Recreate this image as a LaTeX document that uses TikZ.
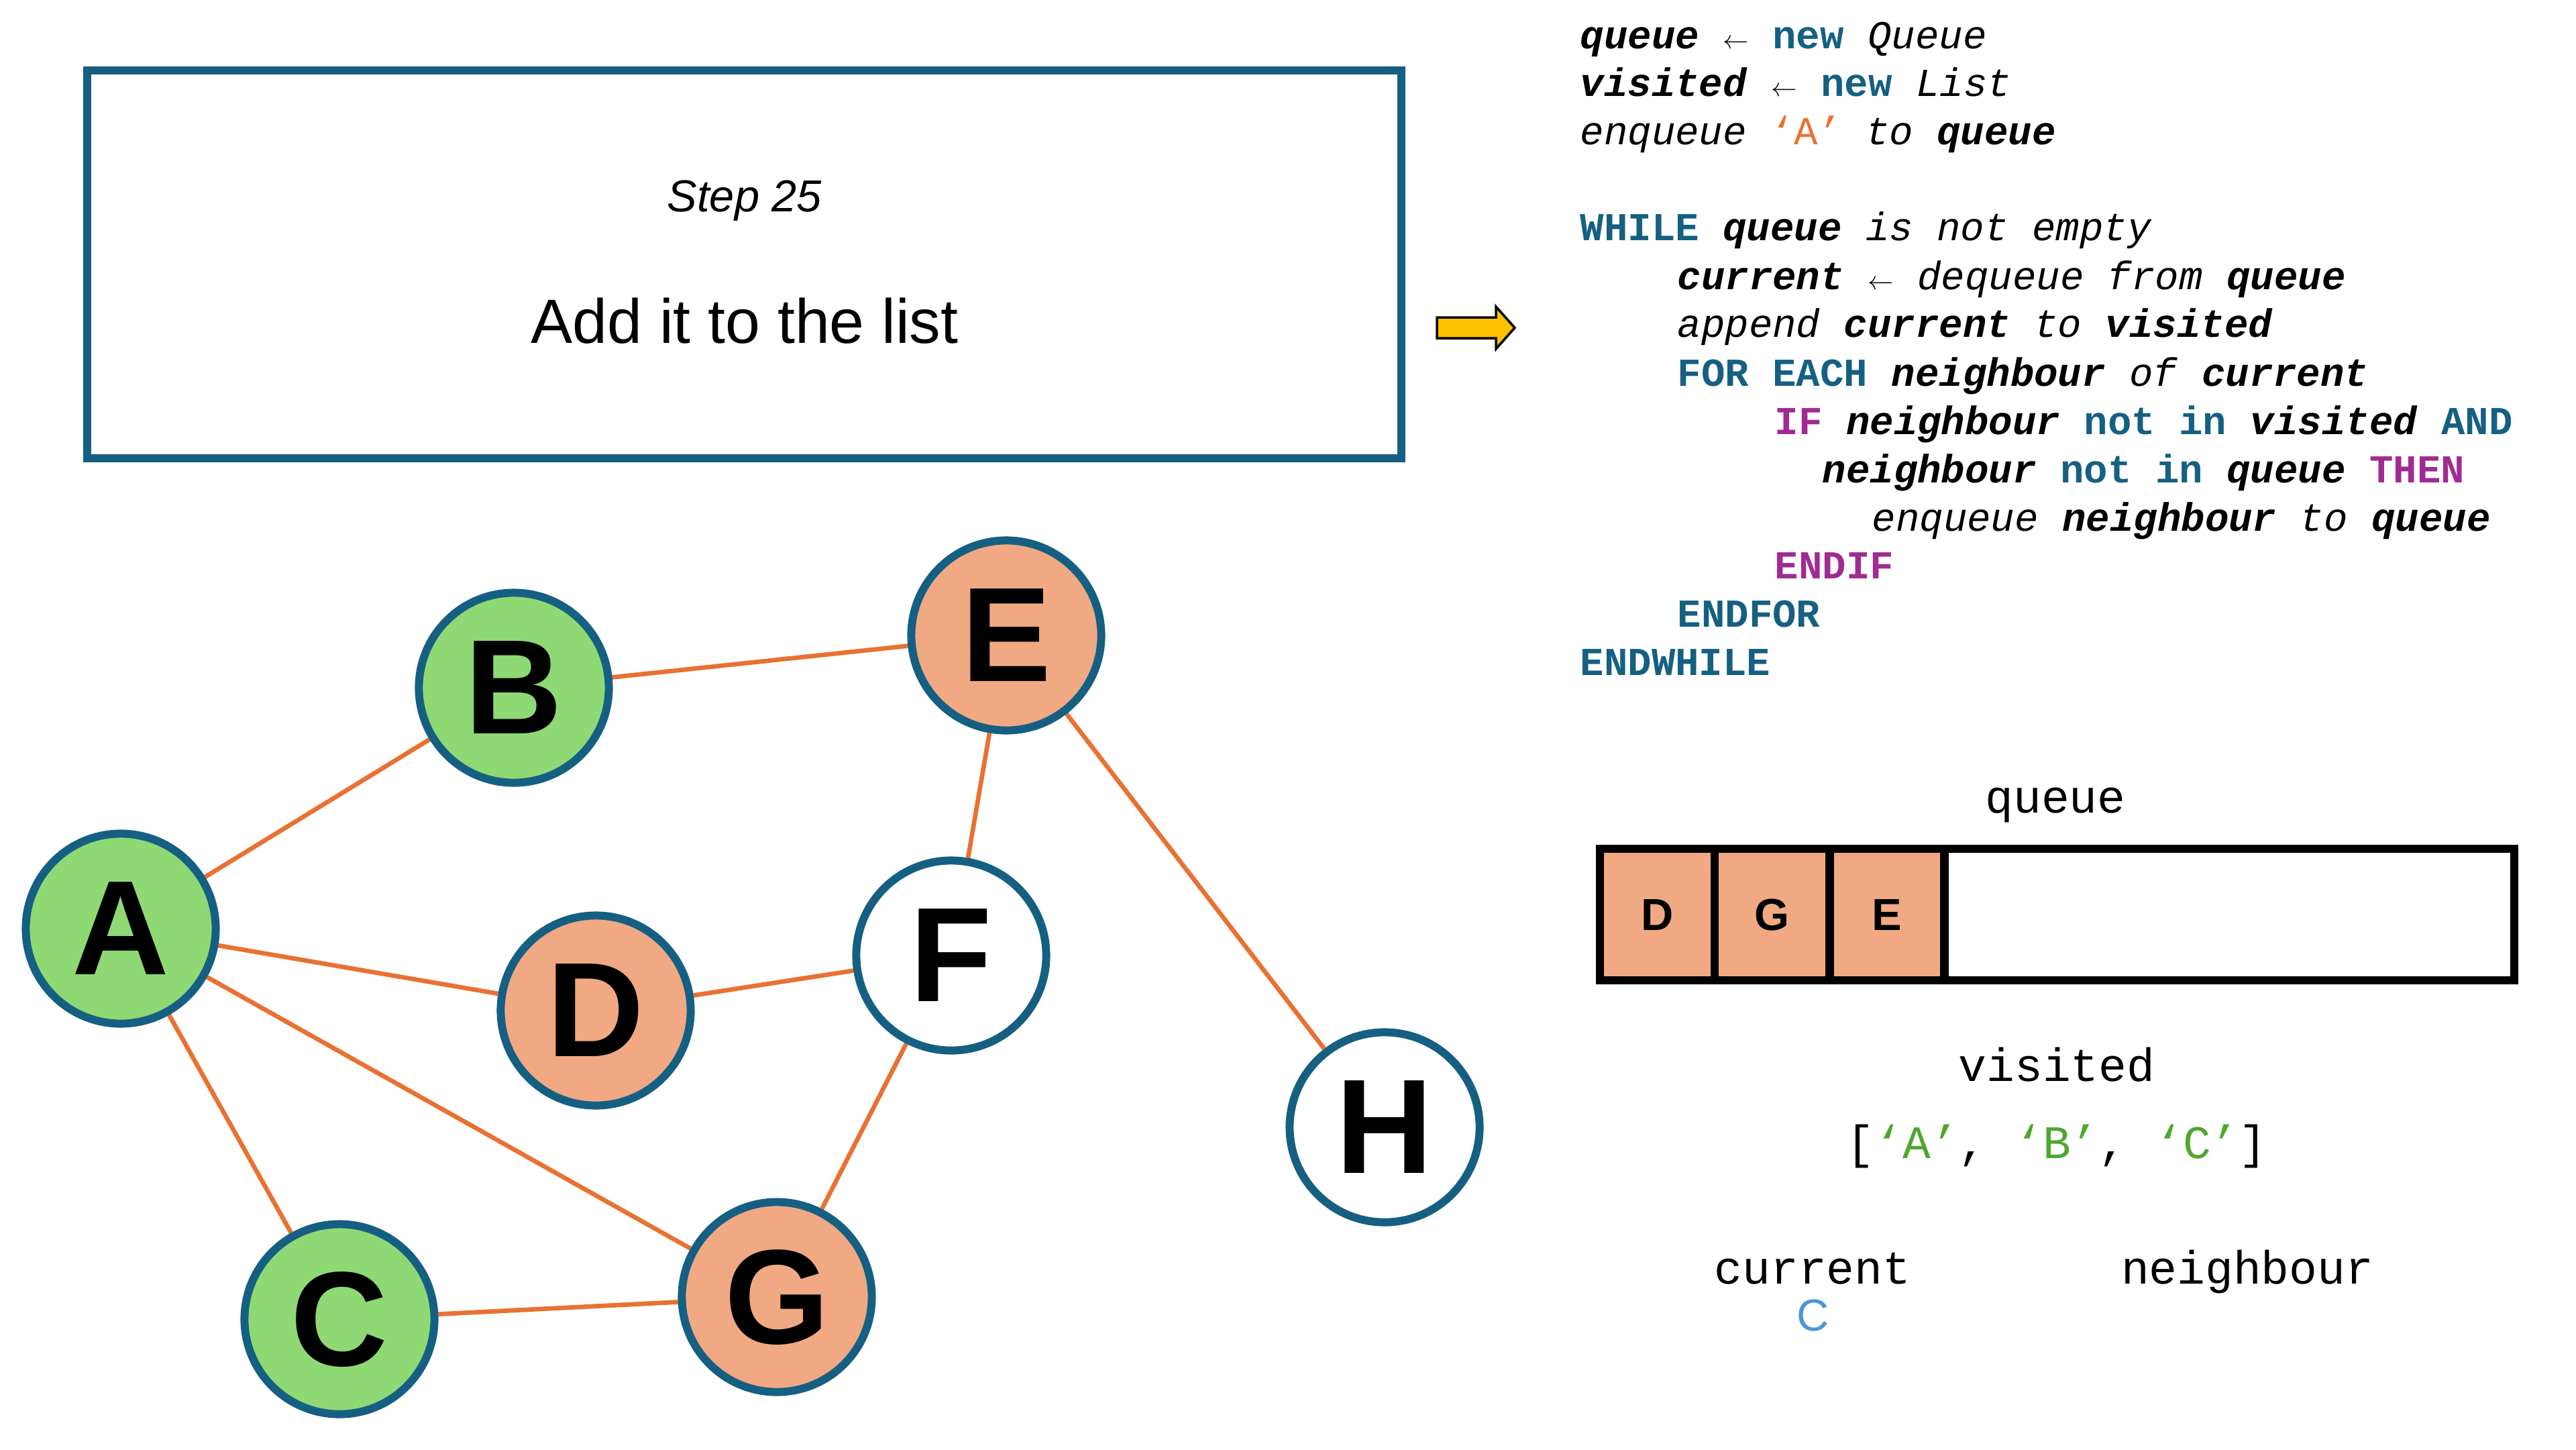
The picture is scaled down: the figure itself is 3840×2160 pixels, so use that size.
\documentclass[tikz,border=0pt]{standalone}
\usepackage{fontspec}
\setmainfont{Liberation Sans}
\newfontfamily\codefont{Liberation Mono}
\usetikzlibrary{positioning,backgrounds}

\definecolor{nodeteal}{HTML}{156082}
\definecolor{edgeorange}{HTML}{E97132}
\definecolor{visitgreen}{HTML}{8ED973}
\definecolor{queuesalmon}{HTML}{F1A983}
\definecolor{kwteal}{HTML}{156082}
\definecolor{ctlmagenta}{HTML}{A02B93}
\definecolor{strgreen}{HTML}{4EA72E}
\definecolor{curblue}{HTML}{4E95D9}
\definecolor{arrowyellow}{HTML}{FFC000}

% pseudocode helpers
\newcommand{\cvar}[1]{\textbf{\textit{#1}}}
\newcommand{\ckw}[1]{\textcolor{kwteal}{\textbf{#1}}}
\newcommand{\cctl}[1]{\textcolor{ctlmagenta}{\textbf{#1}}}
\newcommand{\cword}[1]{\textit{#1}}
\newcommand{\larr}{{\fontsize{11}{11}\selectfont$\leftarrow$}}

\begin{document}
\begin{tikzpicture}[x=0.01cm,y=-0.01cm,
    vertex/.style={circle,draw=nodeteal,line width=3.4pt,minimum size=2.83cm,inner sep=0pt,
        font=\bfseries\fontsize{57}{57}\selectfont},
    seen/.style={vertex,fill=visitgreen},
    queued/.style={vertex,fill=queuesalmon},
    unseen/.style={vertex,fill=white},
    edge/.style={draw=edgeorange,line width=1.9pt},
    codeline/.style={anchor=base west,inner sep=0pt,font=\codefont\fontsize{16.8}{20}\selectfont},
    label/.style={anchor=base,inner sep=0pt,font=\codefont\fontsize{19.8}{24}\selectfont},
    cell/.style={draw=black,line width=3.6pt,fill=queuesalmon,outer sep=0pt,inner sep=0pt,
        minimum width=1.71cm,minimum height=1.96cm,font=\bfseries\fontsize{19}{19}\selectfont}]
\useasboundingbox (0,0) rectangle (3840,2160);

% step box
\node[draw=nodeteal,line width=3.4pt,minimum width=19.57cm,minimum height=5.78cm] (stepbox) at (1109.5,394) {};
\node[anchor=base,font=\itshape\fontsize{19}{19}\selectfont] (steptitle) at (1110,315) {Step 25};
\node[anchor=base,font=\fontsize{26.5}{26.5}\selectfont] (steptext) at (1110,511) {Add it to the list};

% pointer arrow
\draw[line width=1pt,fill=arrowyellow] (2142,473) -- (2230,473) -- (2230,457) -- (2258,488.5)
    -- (2230,520) -- (2230,504) -- (2142,504) -- cycle;

% graph
\node[seen] (A) at (180,1384) {A};
\node[seen] (B) at (766,1025) {B};
\node[seen] (C) at (506,1966) {C};
\node[queued] (D) at (888,1506) {D};
\node[queued] (E) at (1500,947) {E};
\node[unseen] (F) at (1418,1424) {F};
\node[queued] (G) at (1158,1933) {G};
\node[unseen] (H) at (2064,1680) {H};

\begin{scope}[on background layer]
\foreach \u/\v in {A/B,B/E,A/D,D/F,A/G,A/C,C/G,E/F,F/G,E/H}
    \draw[edge] (\u) -- (\v);
\end{scope}

% pseudocode
\node[codeline] (code1) at (2355,72) {\cvar{queue} \larr{} \ckw{new} \cword{Queue}};
\node[codeline] (code2) at (2355,143) {\cvar{visited} \larr{} \ckw{new} \cword{List}};
\node[codeline] (code3) at (2355,215) {\cword{enqueue} \textcolor{edgeorange}{‘A’} \cword{to} \cvar{queue}};
\node[codeline] (code4) at (2355,358) {\ckw{WHILE} \cvar{queue} \cword{is not empty}};
\node[codeline] (code5) at (2500,431) {\cvar{current} \larr{} \cword{dequeue from} \cvar{queue}};
\node[codeline] (code6) at (2500,502) {\cword{append} \cvar{current} \cword{to} \cvar{visited}};
\node[codeline] (code7) at (2500,575) {\ckw{FOR EACH} \cvar{neighbour} \cword{of} \cvar{current}};
\node[codeline] (code8) at (2645,647) {\cctl{IF} \cvar{neighbour} \ckw{not in} \cvar{visited} \ckw{AND}};
\node[codeline] (code9) at (2716,719) {\cvar{neighbour} \ckw{not in} \cvar{queue} \cctl{THEN}};
\node[codeline] (code10) at (2790,791) {\cword{enqueue} \cvar{neighbour} \cword{to} \cvar{queue}};
\node[codeline] (code11) at (2645,862) {\cctl{ENDIF}};
\node[codeline] (code12) at (2500,934) {\ckw{ENDFOR}};
\node[codeline] (code13) at (2355,1006) {\ckw{ENDWHILE}};

% queue
\node[label] (queuelabel) at (3064,1211) {queue};
\draw[line width=3.6pt] (2385,1265) rectangle (3748,1461);
\node[cell,anchor=west] (q1) at (2385,1363) {D};
\node[cell,right=0pt of q1] (q2) {G};
\node[cell,right=0pt of q2] (q3) {E};

% visited list
\node[label] (visitedlabel) at (3066,1611) {visited};
\node[label] (visitedlist) at (3066,1726) {[\textcolor{strgreen}{‘A’}, \textcolor{strgreen}{‘B’}, \textcolor{strgreen}{‘C’}]};

% current / neighbour
\node[label] (curlabel) at (2702,1913) {current};
\node[label] (nbrlabel) at (3350,1913) {neighbour};
\node[anchor=base,inner sep=0pt,text=curblue,font=\fontsize{19}{19}\selectfont] (curval) at (2703,1983) {C};
\end{tikzpicture}
\end{document}
